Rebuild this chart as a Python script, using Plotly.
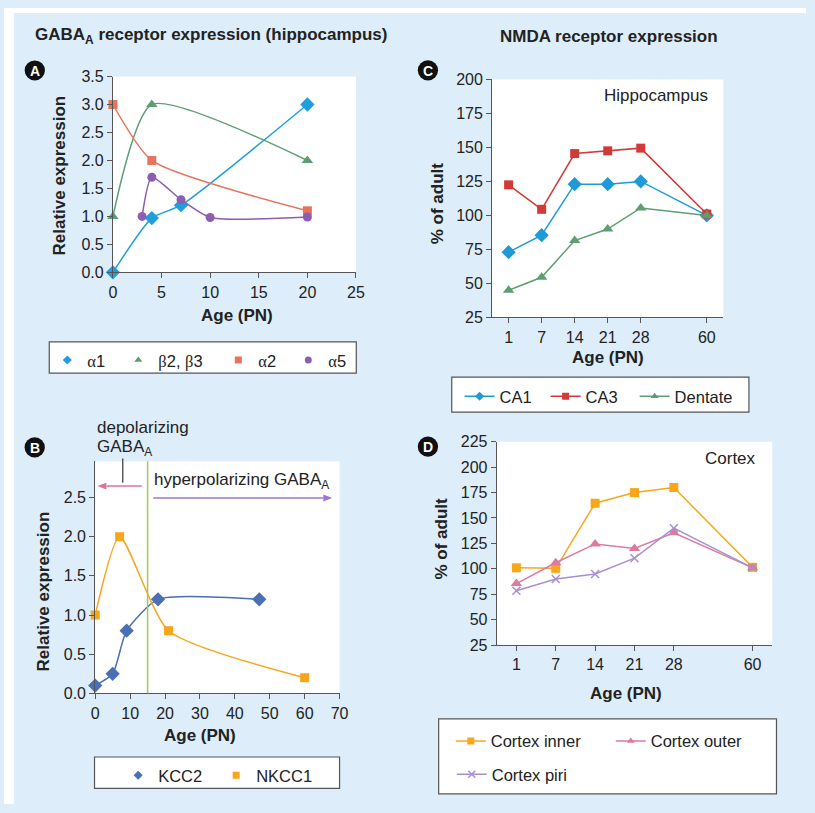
import plotly.graph_objects as go

W, H = 815, 813
FONT = "Liberation Sans, Arial, sans-serif"


def px(x):
    return x / W


def py(y):
    return 1 - y / H


# ---------------- data ----------------
# Panel A: GABA-A receptor subunits (hippocampus)
a_alpha1_age = [0, 4, 7, 20]
a_alpha1_val = [0.0, 0.97, 1.2, 3.0]
a_beta_age = [0, 4, 20]
a_beta_val = [1.0, 3.0, 2.0]
a_alpha2_age = [0, 4, 20]
a_alpha2_val = [3.0, 2.0, 1.1]
a_alpha5_age = [3, 4, 7, 10, 20]
a_alpha5_val = [1.0, 1.7, 1.3, 0.98, 0.99]

# Panel B: chloride transporters
b_kcc2_age = [0, 5, 9, 18, 47]
b_kcc2_val = [0.1, 0.25, 0.8, 1.2, 1.2]
b_nkcc1_age = [0, 7, 21, 60]
b_nkcc1_val = [1.0, 2.0, 0.8, 0.2]
b_switch_day = 15

# Panels C/D: NMDA receptor (% of adult)
ages = ["1", "7", "14", "21", "28", "60"]
c_ca1 = [73, 85.5, 123, 123, 125, 100]
c_ca3 = [122.5, 104.5, 145.5, 147.5, 149.5, 101]
c_dentate = [45, 54.5, 81.5, 90, 105.5, 100]
d_inner = [101, 100.5, 164.5, 175, 180, 101.5]
d_outer = [85.5, 106, 124.5, 120, 135.5, 101]
d_piri = [78.5, 90, 95, 110.5, 140, 101]

# category slots (one empty slot before the adult age, as in a broken axis)
age_slot = [i for i in range(len(ages))]
age_slot[-1] += 1

fig = go.Figure()
SMOOTH = 0.6


def smooth_pair(x, y, name, color, symbol, size, xa, ya, legend, lw):
    fig.add_trace(go.Scatter(x=x, y=y, mode="lines", line=dict(color=color, width=1.5, shape="spline", smoothing=SMOOTH),
                             xaxis=xa, yaxis=ya, showlegend=False, hoverinfo="skip"))
    fig.add_trace(go.Scatter(x=x, y=y, mode="markers", marker=dict(color=color, symbol=symbol, size=size),
                             xaxis=xa, yaxis=ya, showlegend=False, cliponaxis=False))
    fig.add_trace(go.Scatter(x=[None], y=[None], mode="markers", name=name,
                             marker=dict(color=color, symbol=symbol, size=7),
                             xaxis=xa, yaxis=ya, legend=legend, legendwidth=lw))


def straight(x, y, name, color, symbol, size, xa, ya, legend, lw, mline=None):
    fig.add_trace(go.Scatter(x=x, y=y, mode="lines+markers", line=dict(color=color, width=1.5),
                             marker=dict(color=color, symbol=symbol, size=size, line=mline or dict(width=0)),
                             xaxis=xa, yaxis=ya, showlegend=False, cliponaxis=False))
    fig.add_trace(go.Scatter(x=[None], y=[None], mode="lines+markers", name=name,
                             line=dict(color=color, width=1.5),
                             marker=dict(color=color, symbol=symbol, size=7, line=mline or dict(width=0)),
                             xaxis=xa, yaxis=ya, legend=legend, legendwidth=lw))


g = '<span style="font-family:Liberation Serif">'
# Panel A
smooth_pair(a_alpha1_age, a_alpha1_val, g + "α</span>1", "#1E9FDB", "diamond", 11, "x", "y", "legend", 26)
smooth_pair(a_beta_age, a_beta_val, g + "β</span>2, " + g + "β</span>3", "#5C9E74", "triangle-up", 10, "x", "y", "legend", 55)
smooth_pair(a_alpha2_age, a_alpha2_val, g + "α</span>2", "#E6735C", "square", 9, "x", "y", "legend", 25)
smooth_pair(a_alpha5_age, a_alpha5_val, g + "α</span>5", "#8C5DB0", "circle", 9, "x", "y", "legend", 25)

# Panel B
smooth_pair(b_kcc2_age, b_kcc2_val, "KCC2", "#4A6FB5", "diamond", 11, "x2", "y2", "legend2", 53)
smooth_pair(b_nkcc1_age, b_nkcc1_val, "NKCC1", "#F7A51C", "square", 9, "x2", "y2", "legend2", 53)

# Panel C
straight(age_slot, c_ca1, "CA1", "#1E9BD7", "diamond", 11, "x3", "y3", "legend3", 41)
straight(age_slot, c_ca3, "CA3", "#D23A3A", "square", 9, "x3", "y3", "legend3", 44)
straight(age_slot, c_dentate, "Dentate", "#5E9E72", "triangle-up", 10, "x3", "y3", "legend3", 60)

# Panel D
straight(age_slot, d_inner, "Cortex inner", "#F9A61A", "square", 9, "x4", "y4", "legend4", 115)
straight(age_slot, d_outer, "Cortex outer", "#DC7AA0", "triangle-up", 10, "x4", "y4", "legend4", 100)
straight(age_slot, d_piri, "Cortex piri", "#A890D0", "x-thin", 8, "x4", "y4", "legend5", 100,
         mline=dict(color="#A890D0", width=1.5))

AX = dict(showline=True, linecolor="#555", linewidth=1, ticks="outside", ticklen=5, tickcolor="#555",
          showgrid=False, zeroline=False, tickfont=dict(size=16, color="#222", family=FONT), fixedrange=True)

fig.update_layout(
    margin=dict(l=0, r=0, t=0, b=0),
    paper_bgcolor="#DDEEFA", plot_bgcolor="white",
    font=dict(family=FONT, color="#222"),
    xaxis=dict(AX, domain=[px(110.7), px(357.7)], range=[0, 25], dtick=5, anchor="y"),
    yaxis=dict(AX, domain=[py(270), py(70)], range=[0, 3.5], dtick=0.5, tickformat=".1f", anchor="x"),
    xaxis2=dict(AX, domain=[px(92.7), px(341)], range=[0, 70], dtick=10, anchor="y2"),
    yaxis2=dict(AX, domain=[py(700), py(463)], range=[0, 2.9625], tickvals=[0, 0.5, 1, 1.5, 2, 2.5],
                tickformat=".1f", anchor="x2"),
    xaxis3=dict(AX, domain=[px(496), px(731)], range=[-0.5, 6.5], tickvals=age_slot, ticktext=ages, anchor="y3"),
    yaxis3=dict(AX, domain=[py(316), py(73)], range=[25, 200], dtick=25, anchor="x3"),
    xaxis4=dict(AX, domain=[px(500.7), px(780.7)], range=[-0.5, 6.5], tickvals=age_slot, ticktext=ages, anchor="y4"),
    yaxis4=dict(AX, domain=[py(650.7), py(443)], range=[25, 225], dtick=25, anchor="x4"),
)

LEG = dict(orientation="h", xanchor="left", yanchor="top", bgcolor="rgba(0,0,0,0)", borderwidth=0,
           font=dict(size=16.5, family=FONT, color="#222"), itemwidth=30, tracegroupgap=0)
fig.update_layout(
    legend=dict(LEG, x=px(44), y=py(342)),
    legend2=dict(LEG, x=px(116), y=py(766)),
    legend3=dict(LEG, x=px(463), y=py(379)),
    legend4=dict(LEG, x=px(454), y=py(731)),
    legend5=dict(LEG, x=px(455), y=py(765)),
)

shapes = []
# white margin outside the blue panel
shapes.append(dict(type="rect", xref="paper", yref="paper", x0=0, x1=px(10), y0=0, y1=1,
                   fillcolor="white", line=dict(width=0), layer="below"))
shapes.append(dict(type="rect", xref="paper", yref="paper", x0=0, x1=1, y0=py(5), y1=1,
                   fillcolor="white", line=dict(width=0), layer="below"))
# legend boxes
for (x0, x1, y0, y1) in [(46, 358, 341, 373), (92, 341, 765, 797), (455, 757, 377, 412.7), (441.7, 785, 726, 802.7)]:
    shapes.append(dict(type="rect", xref="paper", yref="paper", x0=px(x0), x1=px(x1), y0=py(y1), y1=py(y0),
                       fillcolor="white", line=dict(color="#555", width=1.2)))
# panel letter circles
for (cx, cy) in [(31.3, 63.8), (31.2, 448.8), (430.8, 63.7), (430.8, 448)]:
    r = 10.3
    shapes.append(dict(type="circle", xref="paper", yref="paper", x0=px(cx - r), x1=px(cx + r),
                       y0=py(cy + r), y1=py(cy - r), fillcolor="#111", line=dict(width=0)))
# switch line in panel B
shapes.append(dict(type="line", xref="x2", yref="y2 domain", x0=b_switch_day, x1=b_switch_day, y0=0, y1=1,
                   line=dict(color="#9CCC50", width=1.5)))
# pointer from depolarizing label
shapes.append(dict(type="line", xref="paper", yref="paper", x0=px(120.7), x1=px(120.7), y0=py(485), y1=py(460),
                   line=dict(color="#333", width=1.2)))


def arrow(x_tail, x_head, y, color):
    d = 1 if x_head > x_tail else -1
    hl, hw = 9, 3.5
    shapes.append(dict(type="line", xref="paper", yref="paper", x0=px(x_tail), x1=px(x_head - d * hl), y0=py(y), y1=py(y),
                       line=dict(color=color, width=1.5)))
    path = "M %f,%f L %f,%f L %f,%f Z" % (px(x_head), py(y), px(x_head - d * hl), py(y - hw),
                                         px(x_head - d * hl), py(y + hw))
    shapes.append(dict(type="path", xref="paper", yref="paper", path=path, fillcolor=color, line=dict(width=0)))


arrow(140, 95, 488.3, "#E0709C")
arrow(151.7, 333.5, 500.5, "#9B76CC")
fig.update_layout(shapes=shapes)

ann = []


def text(x, y, s, size=17, bold=False, xanchor="center", angle=0, color="#222"):
    ann.append(dict(xref="paper", yref="paper", x=px(x), y=py(y), text=("<b>%s</b>" % s) if bold else s,
                    showarrow=False, xanchor=xanchor, yanchor="middle", textangle=angle,
                    font=dict(size=size, family=FONT, color=color)))


text(210.5, 29, "GABA<sub>A</sub> receptor expression (hippocampus)", bold=True)
text(614.5, 29, "NMDA receptor expression", bold=True)
for (cx, cy, L) in [(31.3, 63.8, "A"), (31.2, 448.8, "B"), (430.8, 63.7, "C"), (430.8, 448, "D")]:
    text(cx, cy + 0.5, L, size=14, bold=True, color="white")
# axis titles
text(56, 171, "Relative expression", bold=True, angle=-90)
text(237, 314, "Age (PN)", bold=True)
text(40, 595.5, "Relative expression", bold=True, angle=-90)
text(199, 743, "Age (PN)", bold=True)
text(440.5, 199, "% of adult", bold=True, angle=-90)
text(614, 357, "Age (PN)", bold=True)
text(445, 542, "% of adult", bold=True, angle=-90)
text(632.5, 700, "Age (PN)", bold=True)
# in-plot labels
text(717, 89, "Hippocampus", xanchor="right")
text(766, 460, "Cortex", xanchor="right")
text(92, 428, "depolarizing", xanchor="left")
text(92, 449, "GABA<sub>A</sub>", xanchor="left")
text(150.5, 483, "hyperpolarizing GABA<sub>A</sub>", xanchor="left")
fig.update_layout(annotations=ann)

# the graph div is pinned to the page's top-left corner so the default body margin does not shift it
fig.write_html("out.html", config={"displayModeBar": False, "staticPlot": True},
               default_width="%dpx" % W,
               default_height="%dpx;position:absolute;left:0;top:0;margin:0" % H)
